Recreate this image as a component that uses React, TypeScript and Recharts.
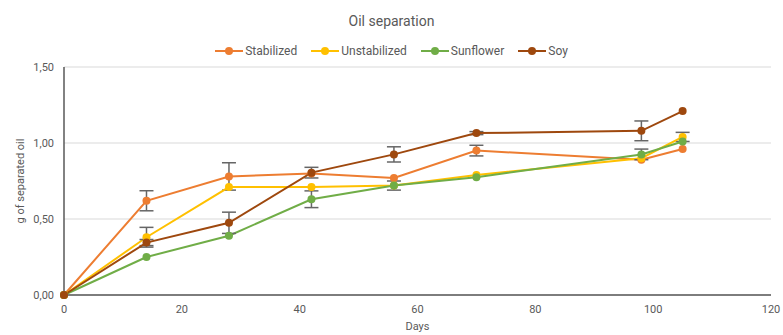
import { LineChart, Line, XAxis, YAxis, CartesianGrid, ErrorBar, Legend } from 'recharts';

const days = [0, 14, 28, 42, 56, 70, 98, 105];
const stabilized = [0, 0.62, 0.78, 0.8, 0.77, 0.95, 0.89, 0.96];
const unstabilized = [0, 0.38, 0.71, 0.71, 0.72, 0.79, 0.9, 1.04];
const sunflower = [0, 0.25, 0.39, 0.63, 0.72, 0.775, 0.925, 1.01];
const soy = [0, 0.345, 0.475, 0.805, 0.925, 1.065, 1.08, 1.21];

const stabilizedErr = [0, 0.066, 0.09, 0, 0, 0.035, 0, 0];
const unstabilizedErr = [0, 0.065, 0, 0, 0, 0, 0, 0.03];
const sunflowerErr = [0, 0, 0, 0.055, 0.03, 0, 0.035, 0];
const soyErr = [0, 0.02, 0.07, 0.035, 0.05, 0.01, 0.065, 0];

const xTicks = [0, 20, 40, 60, 80, 100, 120];
const yTicks = [0, 0.5, 1, 1.5];

const data = days.map((d, i) => ({
  day: d,
  stabilized: stabilized[i],
  stabilizedErr: stabilizedErr[i],
  unstabilized: unstabilized[i],
  unstabilizedErr: unstabilizedErr[i],
  sunflower: sunflower[i],
  sunflowerErr: sunflowerErr[i],
  soy: soy[i],
  soyErr: soyErr[i],
}));

const FONT = 'Roboto, Arial, sans-serif';
const TEXT = '#595959';

const series = [
  { key: 'stabilized', name: 'Stabilized', color: '#ED7D31' },
  { key: 'unstabilized', name: 'Unstabilized', color: '#FFC000' },
  { key: 'sunflower', name: 'Sunflower', color: '#70AD47' },
  { key: 'soy', name: 'Soy', color: '#9E480E' },
];

// legend keeps series order (recharts sorts its payload by name)
function CustomLegend() {
  return (
    <div style={{ display: 'flex', justifyContent: 'center', gap: 14, fontFamily: FONT, fontSize: 12, color: TEXT }}>
      {series.map((s) => (
        <div key={s.key} style={{ display: 'flex', alignItems: 'center', gap: 2 }}>
          <svg width={28} height={10}>
            <line x1={0} y1={5} x2={28} y2={5} stroke={s.color} strokeWidth={2} />
            <circle cx={14} cy={5} r={4} fill={s.color} />
          </svg>
          <span>{s.name}</span>
        </div>
      ))}
    </div>
  );
}

export default function App() {
  return (
    <div style={{ position: 'absolute', left: 0, top: 0, width: 783, height: 335, background: '#fff' }}>
      <div
        style={{
          position: 'absolute',
          top: 13,
          width: 783,
          textAlign: 'center',
          fontFamily: FONT,
          fontSize: 14,
          color: TEXT,
        }}
      >
        Oil separation
      </div>
      <LineChart width={783} height={335} data={data} margin={{ top: 67, right: 12, bottom: 0, left: 0 }}>
        <CartesianGrid vertical={false} stroke="#d9d9d9" />
        <XAxis
          dataKey="day"
          type="number"
          domain={[0, 120]}
          ticks={xTicks}
          height={40}
          tickLine={false}
          tickSize={0}
          tickMargin={10}
          stroke="#595959"
          strokeWidth={1.5}
          tick={{ fill: TEXT, fontSize: 11, fontFamily: FONT }}
          label={{ value: 'Days', position: 'insideBottom', offset: 5, fill: TEXT, fontSize: 11, fontFamily: FONT }}
        />
        <YAxis
          type="number"
          domain={[0, 1.5]}
          ticks={yTicks}
          width={64}
          tickLine={false}
          tickSize={0}
          tickMargin={10}
          stroke="#595959"
          strokeWidth={1.5}
          tickFormatter={(v: number) => v.toFixed(2).replace('.', ',')}
          tick={{ fill: TEXT, fontSize: 11, fontFamily: FONT }}
          label={{
            value: 'g of separated oil',
            angle: -90,
            position: 'insideLeft',
            offset: 20,
            style: { textAnchor: 'middle' },
            fill: TEXT,
            fontSize: 11,
            fontFamily: FONT,
          }}
        />
        <Legend
          verticalAlign="middle"
          align="center"
          wrapperStyle={{ top: 44, left: 0, width: 783 }}
          content={<CustomLegend />}
        />
        {series.map((s) => (
          <Line
            key={s.key}
            dataKey={s.key}
            name={s.name}
            stroke={s.color}
            strokeWidth={2}
            dot={{ r: 4, fill: s.color, stroke: s.color, strokeWidth: 0 }}
            activeDot={false}
            isAnimationActive={false}
          >
            <ErrorBar dataKey={s.key + 'Err'} width={7} stroke="#666" strokeWidth={1.5} direction="y" />
          </Line>
        ))}
      </LineChart>
    </div>
  );
}
